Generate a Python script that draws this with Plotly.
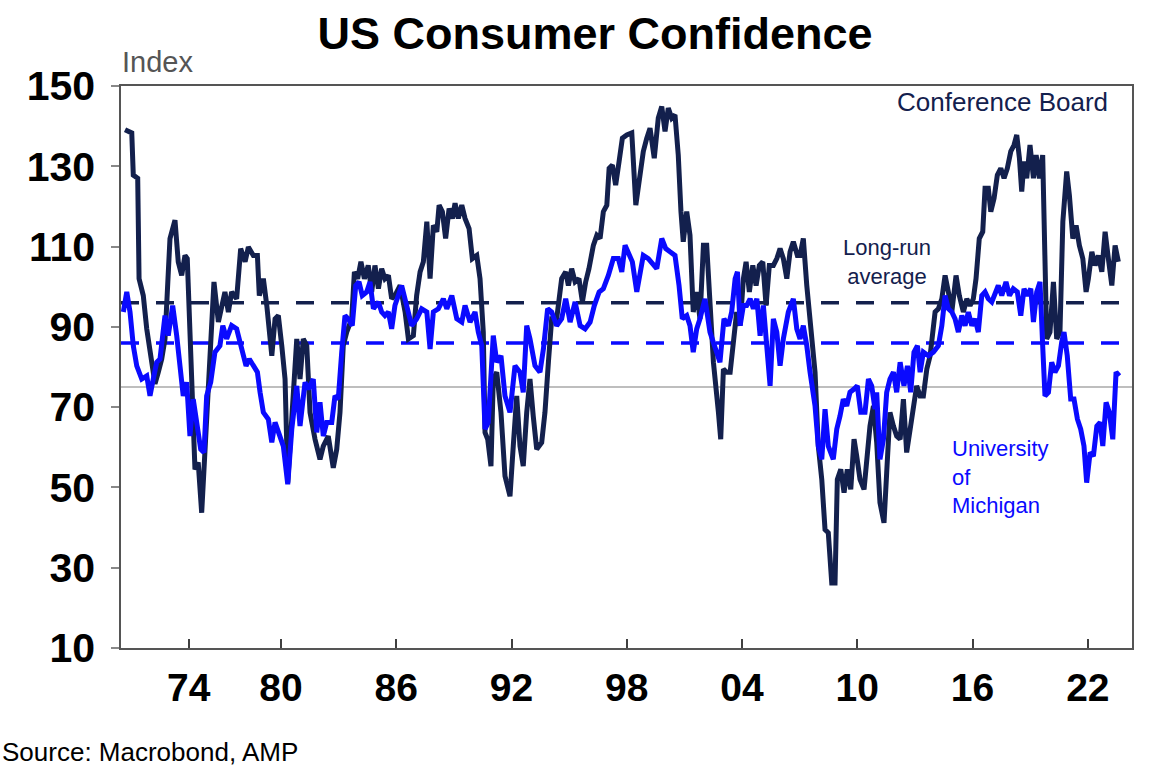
import plotly.graph_objects as go

NAVY = '#13204d'
BLUE = '#0a0aff'
FONT = 'Liberation Sans, Arial, sans-serif'

# x is the position on the source chart's time axis, in years
# (the source squeezes the years before 1980 a little, so the "74" tick sits late)
cb_year = [
    1971.88, 1972.23, 1972.31, 1972.54, 1972.61, 1972.83, 1973.01, 1973.18, 1973.27, 1973.44,
    1973.61, 1973.79, 1973.96, 1974.13, 1974.22, 1974.48, 1974.65, 1974.83, 1975.00, 1975.12,
    1975.23, 1975.35, 1975.52, 1975.69, 1975.87, 1976.04, 1976.30, 1976.51, 1976.74, 1976.91,
    1977.08, 1977.26, 1977.43, 1977.69, 1977.90, 1978.13, 1978.30, 1978.56, 1978.77, 1978.87,
    1979.08, 1979.26, 1979.52, 1979.69, 1979.86, 1980.04, 1980.21, 1980.35, 1980.56, 1980.82,
    1980.99, 1981.16, 1981.34, 1981.51, 1981.77, 1982.03, 1982.20, 1982.46, 1982.72, 1982.90,
    1983.07, 1983.24, 1983.42, 1983.68, 1983.82, 1983.99, 1984.16, 1984.34, 1984.54, 1984.72,
    1984.89, 1985.07, 1985.24, 1985.41, 1985.59, 1985.76, 1985.93, 1986.20, 1986.46, 1986.63,
    1986.89, 1987.06, 1987.24, 1987.41, 1987.59, 1987.76, 1987.93, 1988.11, 1988.23, 1988.40,
    1988.57, 1988.75, 1988.92, 1989.06, 1989.23, 1989.41, 1989.58, 1989.79, 1989.96, 1990.19,
    1990.36, 1990.53, 1990.62, 1990.76, 1990.93, 1991.05, 1991.23, 1991.45, 1991.66, 1991.92,
    1992.09, 1992.27, 1992.44, 1992.61, 1992.79, 1992.96, 1993.13, 1993.31, 1993.57, 1993.74,
    1993.92, 1994.09, 1994.35, 1994.61, 1994.82, 1994.96, 1995.13, 1995.31, 1995.51, 1995.69,
    1995.86, 1996.03, 1996.26, 1996.44, 1996.61, 1996.78, 1996.96, 1997.08, 1997.25, 1997.42,
    1997.60, 1997.77, 1998.00, 1998.26, 1998.47, 1998.69, 1998.86, 1999.04, 1999.21, 1999.43,
    1999.64, 1999.82, 1999.99, 2000.16, 2000.34, 2000.51, 2000.68, 2000.82, 2000.94, 2001.12,
    2001.29, 2001.46, 2001.64, 2001.81, 2001.99, 2002.16, 2002.33, 2002.51, 2002.77, 2002.89,
    2003.03, 2003.20, 2003.38, 2003.55, 2003.72, 2003.90, 2004.07, 2004.21, 2004.38, 2004.56,
    2004.73, 2004.90, 2005.08, 2005.25, 2005.42, 2005.63, 2005.81, 2005.98, 2006.15, 2006.33,
    2006.50, 2006.67, 2006.88, 2007.02, 2007.19, 2007.37, 2007.54, 2007.80, 2007.97, 2008.15,
    2008.32, 2008.49, 2008.67, 2008.84, 2008.96, 2009.14, 2009.31, 2009.48, 2009.66, 2009.83,
    2009.97, 2010.14, 2010.35, 2010.49, 2010.66, 2010.84, 2011.01, 2011.18, 2011.39, 2011.53,
    2011.70, 2011.88, 2012.05, 2012.23, 2012.40, 2012.57, 2012.75, 2012.92, 2013.09, 2013.27,
    2013.44, 2013.62, 2013.79, 2014.05, 2014.22, 2014.40, 2014.57, 2014.74, 2014.92, 2015.14,
    2015.31, 2015.52, 2015.70, 2015.87, 2016.04, 2016.18, 2016.35, 2016.53, 2016.65, 2016.82,
    2016.95, 2017.12, 2017.29, 2017.47, 2017.64, 2017.81, 2017.99, 2018.16, 2018.30, 2018.44,
    2018.56, 2018.68, 2018.82, 2018.99, 2019.17, 2019.31, 2019.48, 2019.65, 2019.77, 2019.86,
    2020.03, 2020.21, 2020.38, 2020.55, 2020.70, 2020.90, 2021.04, 2021.22, 2021.39, 2021.56,
    2021.74, 2021.91, 2022.03, 2022.21, 2022.38, 2022.55, 2022.73, 2022.90, 2023.07, 2023.25,
    2023.42, 2023.59,
]
cb_index = [
    139.1, 138.3, 127.8, 127.0, 102.0, 97.8, 89.5, 83.7, 80.3, 75.8,
    78.7, 82.0, 87.0, 100.3, 112.0, 116.6, 106.2, 102.8, 107.8, 107.0,
    89.5, 77.0, 54.5, 56.2, 43.7, 60.3, 81.2, 101.2, 91.2, 95.3,
    98.7, 93.7, 98.7, 97.0, 109.5, 106.2, 109.9, 107.8, 107.8, 97.8,
    102.0, 95.3, 82.8, 92.0, 92.8, 85.3, 77.0, 51.2, 68.7, 87.0,
    77.0, 87.0, 85.3, 68.7, 62.0, 57.0, 60.3, 62.8, 54.9, 59.5,
    68.7, 85.3, 88.7, 92.0, 103.7, 102.0, 106.2, 102.0, 105.3, 98.7,
    105.3, 99.5, 104.5, 102.0, 102.8, 97.0, 97.8, 100.3, 93.7, 87.0,
    87.8, 97.8, 103.7, 106.2, 116.2, 102.0, 115.3, 113.7, 120.3, 118.7,
    112.0, 119.5, 117.0, 120.8, 117.0, 120.3, 117.0, 114.5, 107.0, 107.8,
    102.0, 88.7, 63.7, 62.0, 55.3, 77.0, 78.7, 68.7, 52.8, 47.8,
    60.3, 72.8, 60.3, 55.3, 68.7, 77.0, 67.8, 59.5, 61.2, 68.7,
    81.2, 92.0, 92.0, 102.0, 103.7, 100.3, 104.5, 101.2, 102.0, 96.2,
    101.2, 104.5, 110.3, 112.8, 112.0, 118.7, 120.3, 129.5, 130.3, 125.3,
    131.2, 137.0, 137.8, 138.3, 120.3, 127.8, 133.7, 137.0, 139.5, 132.0,
    142.0, 144.9, 138.7, 144.5, 142.0, 142.8, 132.8, 118.7, 111.2, 118.7,
    112.8, 93.7, 98.7, 92.0, 110.3, 110.3, 93.7, 81.2, 68.7, 62.0,
    79.5, 78.7, 78.7, 85.3, 93.7, 90.3, 102.0, 106.2, 98.7, 105.3,
    100.3, 105.3, 106.2, 95.3, 105.3, 105.3, 107.0, 109.5, 107.0, 102.0,
    108.7, 111.2, 107.8, 107.8, 112.0, 100.3, 90.3, 78.7, 60.3, 52.0,
    39.5, 38.7, 26.2, 26.2, 52.0, 54.5, 48.7, 54.5, 49.5, 62.0,
    57.8, 52.0, 49.5, 57.8, 65.3, 70.3, 61.2, 46.2, 41.2, 53.7,
    68.7, 65.3, 62.8, 62.0, 72.0, 58.7, 64.5, 70.3, 75.3, 72.8,
    72.8, 79.5, 82.8, 93.7, 94.5, 97.0, 102.8, 98.7, 93.7, 102.8,
    97.8, 93.7, 97.0, 95.3, 97.0, 102.0, 112.0, 113.7, 124.5, 124.5,
    118.7, 122.0, 127.8, 129.5, 127.0, 129.5, 133.7, 135.3, 137.8, 132.0,
    123.7, 131.2, 127.0, 135.3, 127.0, 132.8, 127.0, 132.8, 102.0, 87.0,
    88.7, 101.2, 87.0, 88.7, 116.2, 128.7, 122.8, 112.0, 115.3, 110.3,
    107.0, 98.7, 102.0, 108.7, 105.3, 107.8, 103.7, 113.7, 107.0, 100.3,
    110.3, 106.2,
]

um_year = [
    1971.79, 1971.97, 1972.14, 1972.31, 1972.49, 1972.75, 1973.01, 1973.18, 1973.35, 1973.53,
    1973.70, 1973.96, 1974.13, 1974.36, 1974.57, 1974.74, 1974.91, 1975.09, 1975.26, 1975.43,
    1975.61, 1975.82, 1975.99, 1976.13, 1976.34, 1976.56, 1976.82, 1976.97, 1977.17, 1977.43,
    1977.69, 1977.95, 1978.18, 1978.35, 1978.56, 1978.77, 1978.91, 1979.08, 1979.34, 1979.52,
    1979.69, 1979.86, 1980.12, 1980.35, 1980.56, 1980.82, 1980.99, 1981.25, 1981.42, 1981.68,
    1981.86, 1982.03, 1982.20, 1982.38, 1982.64, 1982.81, 1982.98, 1983.16, 1983.33, 1983.50,
    1983.71, 1983.89, 1984.06, 1984.23, 1984.46, 1984.63, 1984.81, 1985.07, 1985.24, 1985.41,
    1985.59, 1985.76, 1985.93, 1986.28, 1986.54, 1986.80, 1987.06, 1987.32, 1987.59, 1987.76,
    1987.93, 1988.19, 1988.45, 1988.63, 1988.89, 1989.15, 1989.41, 1989.58, 1989.84, 1990.10,
    1990.27, 1990.45, 1990.62, 1990.79, 1991.05, 1991.23, 1991.45, 1991.66, 1991.92, 1992.18,
    1992.44, 1992.61, 1992.79, 1992.96, 1993.22, 1993.48, 1993.66, 1993.88, 1994.09, 1994.35,
    1994.61, 1994.82, 1995.05, 1995.31, 1995.57, 1995.83, 1996.09, 1996.31, 1996.56, 1996.78,
    1997.04, 1997.30, 1997.56, 1997.74, 1997.91, 1998.08, 1998.29, 1998.52, 1998.69, 1998.86,
    1999.12, 1999.38, 1999.56, 1999.82, 2000.03, 2000.25, 2000.51, 2000.72, 2000.89, 2001.12,
    2001.29, 2001.46, 2001.64, 2001.81, 2002.07, 2002.33, 2002.59, 2002.85, 2003.06, 2003.29,
    2003.46, 2003.64, 2003.76, 2003.90, 2004.07, 2004.24, 2004.42, 2004.59, 2004.77, 2004.94,
    2005.11, 2005.29, 2005.46, 2005.63, 2005.81, 2005.98, 2006.15, 2006.41, 2006.67, 2006.85,
    2007.02, 2007.19, 2007.37, 2007.54, 2007.80, 2007.97, 2008.15, 2008.32, 2008.49, 2008.75,
    2008.93, 2009.10, 2009.27, 2009.45, 2009.62, 2009.83, 2010.00, 2010.18, 2010.40, 2010.58,
    2010.75, 2010.92, 2011.01, 2011.18, 2011.36, 2011.53, 2011.70, 2011.88, 2012.05, 2012.23,
    2012.43, 2012.61, 2012.78, 2012.95, 2013.13, 2013.27, 2013.44, 2013.70, 2013.96, 2014.22,
    2014.40, 2014.57, 2014.74, 2014.92, 2015.09, 2015.26, 2015.44, 2015.61, 2015.78, 2015.96,
    2016.13, 2016.30, 2016.48, 2016.65, 2016.82, 2017.00, 2017.17, 2017.34, 2017.52, 2017.74,
    2017.92, 2018.12, 2018.33, 2018.51, 2018.68, 2018.85, 2019.03, 2019.17, 2019.34, 2019.51,
    2019.65, 2019.77, 2019.95, 2020.12, 2020.29, 2020.47, 2020.64, 2020.76, 2020.93, 2021.11,
    2021.28, 2021.46, 2021.63, 2021.80, 2021.94, 2022.12, 2022.29, 2022.47, 2022.64, 2022.78,
    2022.95, 2023.12, 2023.30, 2023.47, 2023.64,
]
um_index = [
    93.7, 98.7, 93.7, 85.3, 80.3, 77.0, 77.8, 72.8, 77.0, 81.2,
    82.0, 92.8, 87.8, 95.3, 87.8, 80.3, 72.8, 76.2, 62.8, 72.0,
    65.3, 59.5, 58.7, 72.8, 76.2, 83.7, 85.3, 90.3, 87.0, 90.3,
    89.5, 84.5, 80.3, 82.0, 80.3, 78.7, 73.7, 68.7, 67.0, 61.2,
    66.2, 63.7, 60.3, 50.8, 64.5, 75.3, 65.3, 76.2, 74.5, 77.0,
    63.7, 71.2, 62.8, 66.2, 66.2, 72.8, 72.0, 83.7, 92.8, 92.0,
    90.3, 100.3, 101.2, 97.8, 98.7, 101.2, 94.5, 96.2, 93.7, 92.8,
    93.7, 89.5, 95.3, 100.3, 95.3, 90.3, 92.0, 94.5, 93.7, 84.5,
    93.7, 94.5, 97.0, 94.5, 97.8, 92.0, 91.2, 95.3, 91.2, 93.7,
    88.7, 85.3, 64.5, 66.2, 87.8, 81.2, 82.8, 72.8, 68.7, 80.3,
    78.7, 73.7, 90.3, 87.0, 80.3, 78.7, 84.5, 94.5, 93.7, 90.3,
    92.0, 97.0, 91.2, 96.2, 90.3, 89.5, 91.2, 95.3, 98.7, 99.5,
    102.8, 107.0, 107.0, 103.7, 110.3, 108.7, 106.2, 98.7, 103.7, 107.8,
    107.0, 105.3, 104.5, 112.0, 109.5, 108.7, 107.8, 100.3, 92.0, 92.8,
    90.3, 83.7, 89.5, 92.0, 97.0, 88.7, 85.3, 81.2, 92.0, 90.3,
    93.7, 102.0, 103.7, 90.3, 95.3, 95.3, 97.0, 94.5, 97.0, 87.8,
    95.3, 85.3, 75.3, 92.0, 88.7, 80.3, 87.0, 93.7, 97.0, 89.5,
    87.0, 90.3, 85.3, 78.7, 70.3, 60.3, 57.0, 69.5, 60.3, 57.0,
    64.5, 67.8, 72.0, 70.3, 73.7, 74.5, 75.3, 68.7, 68.7, 77.0,
    75.3, 69.5, 73.7, 57.0, 62.0, 73.7, 77.0, 78.7, 73.7, 81.2,
    75.3, 80.3, 73.7, 83.7, 85.3, 78.7, 83.7, 82.8, 83.7, 85.3,
    90.3, 97.8, 94.5, 93.7, 92.0, 88.7, 92.8, 90.3, 93.7, 90.3,
    92.0, 88.7, 97.8, 98.7, 97.0, 96.2, 98.7, 100.3, 97.8, 101.2,
    97.8, 99.5, 98.7, 92.8, 99.5, 97.8, 99.5, 91.2, 98.7, 101.2,
    85.3, 72.8, 73.7, 81.2, 78.7, 80.3, 86.2, 88.7, 82.8, 72.0,
    72.0, 67.0, 64.5, 60.3, 51.2, 58.7, 57.8, 65.3, 66.2, 60.3,
    71.2, 68.7, 62.0, 78.7, 77.8,
]

cb_average = 96
um_average = 86
reference_level = 75

x_range = [1971.67, 2024.3]
tick_years = [1975.2, 1980, 1986, 1992, 1998, 2004, 2010, 2016, 2022]
tick_labels = ['74', '80', '86', '92', '98', '04', '10', '16', '22']
y_ticks = [10, 30, 50, 70, 90, 110, 130, 150]

fig = go.Figure()

# long-run averages
fig.add_trace(go.Scatter(x=x_range, y=[cb_average, cb_average], mode='lines',
                         line=dict(color=NAVY, width=3.5, dash='18px,17px'), hoverinfo='skip'))
fig.add_trace(go.Scatter(x=x_range, y=[um_average, um_average], mode='lines',
                         line=dict(color=BLUE, width=3.5, dash='18px,17px'), hoverinfo='skip'))

fig.add_trace(go.Scatter(x=cb_year, y=cb_index, mode='lines', name='Conference Board',
                         line=dict(color=NAVY, width=5)))
fig.add_trace(go.Scatter(x=um_year, y=um_index, mode='lines', name='University of Michigan',
                         line=dict(color=BLUE, width=5)))

fig.add_hline(y=reference_level, line=dict(color='#a8a8a8', width=1.5), layer='below')

# series labels, each one block of text
fig.add_annotation(xref='x', yref='y', x=2023.15, y=146, text='Conference Board',
                   xanchor='right', yanchor='middle', showarrow=False,
                   font=dict(family=FONT, size=26, color=NAVY))
fig.add_annotation(xref='x', yref='y', x=2011.57, y=106.1, text='Long-run<br>average',
                   xanchor='center', yanchor='middle', align='center', showarrow=False,
                   font=dict(family=FONT, size=22, color=NAVY))
fig.add_annotation(xref='x', yref='y', x=2014.83, y=52.5, text='University<br>of<br>Michigan',
                   xanchor='left', yanchor='middle', align='left', showarrow=False,
                   font=dict(family=FONT, size=22, color=BLUE))

fig.add_annotation(xref='paper', yref='paper', x=-0.001, y=1.043, text='Index',
                   xanchor='left', yanchor='middle', showarrow=False,
                   font=dict(family=FONT, size=29, color='#555555'))
fig.add_annotation(xref='paper', yref='paper', x=-0.1197, y=-0.185, text='Source: Macrobond, AMP',
                   xanchor='left', yanchor='middle', showarrow=False,
                   font=dict(family=FONT, size=26, color='#000000'))

fig.update_layout(
    width=1169, height=783,
    margin=dict(l=121, r=37, t=86, b=135),
    paper_bgcolor='white', plot_bgcolor='white',
    showlegend=False,
    title=dict(text='<b>US Consumer Confidence</b>', x=0.509, xref='container', xanchor='center',
               y=1 - 33 / 783, yref='container', yanchor='middle',
               font=dict(family=FONT, size=45, color='#000000')),
    xaxis=dict(range=x_range, tickmode='array', tickvals=tick_years, ticktext=tick_labels,
               ticks='inside', ticklen=9, tickwidth=1.5, tickcolor='#404040',
               showgrid=False, zeroline=False, showline=True, linecolor='#555555', linewidth=1.5,
               mirror=True, ticklabelstandoff=4, automargin=False,
               tickfont=dict(family=FONT, size=39, color='#000000', weight='bold')),
    yaxis=dict(range=[10, 150], tickmode='array', tickvals=y_ticks,
               ticks='outside', ticklen=8, tickwidth=1.5, tickcolor='#888888',
               showgrid=False, zeroline=False, showline=True, linecolor='#555555', linewidth=1.5,
               mirror=True, ticklabelstandoff=8, automargin=False,
               tickfont=dict(family=FONT, size=41, color='#000000', weight='bold')),
)

# the page body has a default 8px margin; drop it so the figure sits at the window corner
fig.write_html('out.html', config={'displayModeBar': False},
               post_script="document.body.style.margin = '0';")
